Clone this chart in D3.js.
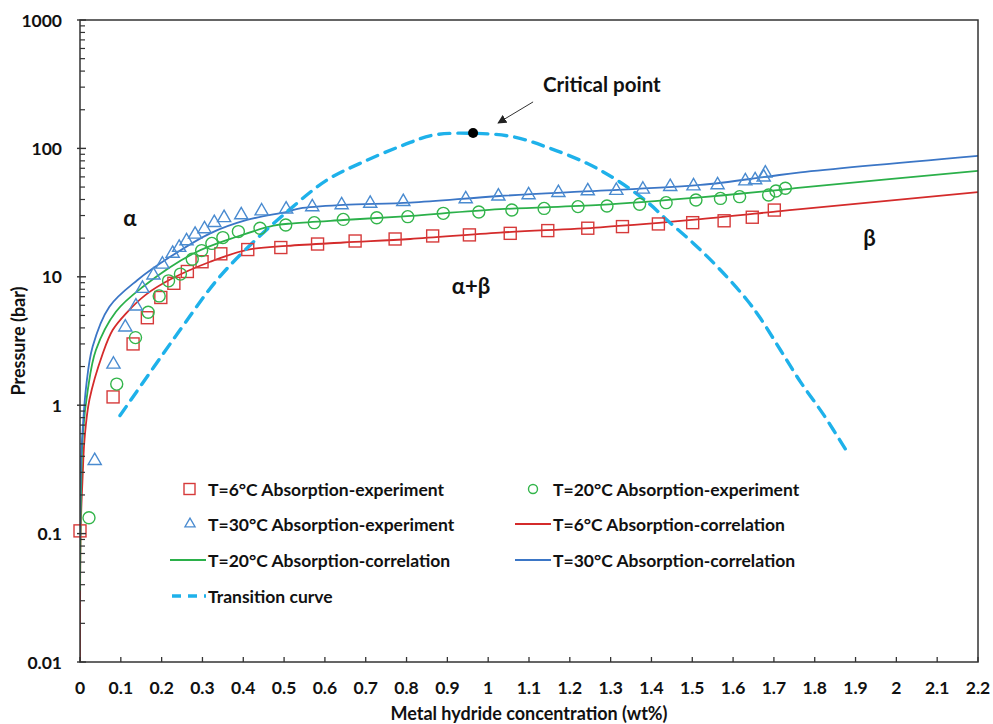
<!DOCTYPE html>
<html>
<head>
<meta charset="utf-8">
<script src="https://cdn.jsdelivr.net/npm/d3@7"></script>
<style>
  html, body { margin: 0; padding: 0; background: #fff; }
  svg text { font-family: "Lato", "Open Sans", sans-serif; font-weight: bold; fill: #111; }
</style>
</head>
<body>
<svg id="chart" width="993" height="724"></svg>
<script>
// ---- Experimental absorption data (wt%, bar) ----
const exp6X = [0, 0.081, 0.130, 0.165, 0.198, 0.230, 0.263, 0.299, 0.345, 0.411, 0.492, 0.582, 0.674, 0.772, 0.864, 0.954, 1.054, 1.146, 1.244, 1.329, 1.417, 1.501, 1.578, 1.647, 1.701];
const exp6P = [0.105, 1.16, 3.0, 4.8, 6.9, 8.9, 11.0, 13.1, 15.1, 16.3, 16.9, 18.0, 19.0, 19.7, 20.8, 21.2, 21.8, 22.9, 23.9, 24.6, 25.8, 26.4, 27.3, 29.1, 33.1];

const exp20X = [0.022, 0.090, 0.136, 0.167, 0.194, 0.217, 0.246, 0.275, 0.298, 0.323, 0.350, 0.388, 0.441, 0.504, 0.574, 0.645, 0.727, 0.803, 0.890, 0.977, 1.058, 1.137, 1.220, 1.291, 1.371, 1.436, 1.509, 1.569, 1.616, 1.687, 1.705, 1.728];
const exp20P = [0.133, 1.46, 3.36, 5.3, 7.1, 9.3, 10.5, 13.7, 16.0, 18.2, 20.2, 22.5, 23.9, 25.3, 26.4, 28.0, 28.8, 29.4, 31.2, 32.0, 33.1, 34.1, 35.2, 35.6, 36.7, 37.8, 39.6, 40.8, 42.1, 43.4, 46.6, 48.9];

const exp30X = [0.036, 0.082, 0.111, 0.137, 0.153, 0.180, 0.202, 0.227, 0.243, 0.261, 0.282, 0.305, 0.329, 0.353, 0.395, 0.445, 0.505, 0.569, 0.641, 0.711, 0.792, 0.945, 1.025, 1.099, 1.172, 1.244, 1.314, 1.379, 1.446, 1.503, 1.562, 1.630, 1.654, 1.675, 1.679];
const exp30P = [0.37, 2.08, 4.05, 5.9, 8.1, 10.3, 12.5, 15.2, 16.9, 19.0, 21.4, 23.6, 26.4, 28.8, 30.3, 32.5, 33.6, 35.0, 36.3, 37.3, 38.4, 40.4, 42.4, 43.4, 45.2, 46.6, 46.9, 48.0, 50.3, 50.9, 51.9, 55.7, 56.8, 59.6, 64.0];

// ---- Correlation curves (wt%, bar) ----
const corr6X = [0, 0.0005, 0.002, 0.0065, 0.011, 0.023, 0.056, 0.080, 0.113, 0.160, 0.223, 0.319, 0.409, 0.507, 0.645, 0.809, 1.029, 1.275, 1.520, 1.716, 1.765, 2.2];
const corr6P = [0.01, 0.05, 0.12, 0.28, 0.54, 1.10, 2.54, 3.85, 5.2, 7.2, 9.6, 13.1, 16.2, 17.4, 18.5, 19.7, 22.1, 24.3, 28.1, 32.5, 33.6, 45.6];

const corr20X = [0, 0.001, 0.003, 0.007, 0.019, 0.039, 0.088, 0.155, 0.278, 0.384, 0.474, 0.523, 0.645, 0.784, 1.029, 1.275, 1.520, 1.716, 1.765, 2.2];
const corr20P = [0.036, 0.09, 0.25, 0.6, 1.31, 2.69, 5.35, 8.4, 15.2, 20.5, 25.0, 26.1, 27.7, 29.4, 33.6, 36.3, 41.6, 47.5, 49.4, 66.8];

const corr30X = [0, 0.001, 0.003, 0.0065, 0.015, 0.031, 0.072, 0.141, 0.221, 0.319, 0.409, 0.507, 0.539, 0.645, 0.809, 1.029, 1.275, 1.520, 1.683, 1.765, 2.2];
const corr30P = [0.09, 0.2, 0.4, 0.64, 1.39, 2.86, 5.85, 9.44, 14.3, 21.8, 27.7, 32.1, 34.1, 36.3, 37.8, 42.6, 46.9, 51.9, 60.2, 65.1, 87.5];

// ---- Transition (phase boundary) curve ----
const transX = [0.098, 0.245, 0.335, 0.409, 0.507, 0.605, 0.686, 0.792, 0.866, 0.964, 1.062, 1.152, 1.242, 1.315, 1.389, 1.438, 1.503, 1.569, 1.634, 1.667, 1.716, 1.765, 1.822, 1.879];
const transP = [0.83, 3.85, 9.4, 16.7, 32.1, 56.7, 76.5, 106, 127, 131, 123, 100, 76.5, 56.7, 38.4, 27.7, 18.2, 11.3, 6.6, 4.75, 2.69, 1.52, 0.84, 0.435];

// Critical point and phase-region labels
const criticalX = 0.963, criticalP = 132;
const regionLabels = ["α", "α+β", "β"];
const regionX = [0.1225, 0.958, 1.934];
const regionP = [29.2, 8.63, 20.4];

// Axis ticks
const xTicks = d3.range(0, 23).map(i => i / 10);
const yMajor = [0.01, 0.1, 1, 10, 100, 1000];
const yTickLabels = ["0.01", "0.1", "1", "10", "100", "1000"];

// ---- Layout ----
const svg = d3.select("#chart");
const plotLeft = 80, plotRight = 978, plotTop = 20, plotBottom = 662;

const x = d3.scaleLinear().domain([0, 2.2]).range([plotLeft, plotRight]);
const y = d3.scaleLog().domain([0.01, 1000]).range([plotBottom, plotTop]);

const colors = {
  red: "#d42b2b", green: "#2bb04a", blue: "#3b76c6",
  redM: "#d63a3a", greenM: "#33b54b", blueM: "#4a8bd0",
  trans: "#1eb1ea"
};

const defs = svg.append("defs");
defs.append("clipPath").attr("id", "plotClip")
  .append("rect").attr("x", plotLeft).attr("y", plotTop)
  .attr("width", plotRight - plotLeft).attr("height", plotBottom - plotTop);

const plot = svg.append("g").attr("clip-path", "url(#plotClip)");

const zip = (xs, ps) => xs.map((v, i) => [v, ps[i]]);
const smooth = d3.line().x(d => x(d[0])).y(d => y(d[1])).curve(d3.curveCatmullRom.alpha(0.5));

// Correlation lines
[[corr6X, corr6P, colors.red], [corr20X, corr20P, colors.green], [corr30X, corr30P, colors.blue]]
  .forEach(([xs, ps, c]) => {
    plot.append("path").datum(zip(xs, ps)).attr("d", smooth)
      .attr("fill", "none").attr("stroke", c).attr("stroke-width", 1.8);
  });

// Transition curve
plot.append("path").datum(zip(transX, transP)).attr("d", smooth)
  .attr("fill", "none").attr("stroke", colors.trans).attr("stroke-width", 3.4)
  .attr("stroke-dasharray", "11,8").attr("stroke-linecap", "round");

// Experimental markers
const markers = svg.append("g");
markers.selectAll(".sq").data(zip(exp6X, exp6P)).join("rect")
  .attr("x", d => x(d[0]) - 6).attr("y", d => y(d[1]) - 6)
  .attr("width", 12).attr("height", 12)
  .attr("fill", "none").attr("stroke", colors.redM).attr("stroke-width", 1.4);

markers.selectAll(".ci").data(zip(exp20X, exp20P)).join("circle")
  .attr("cx", d => x(d[0])).attr("cy", d => y(d[1])).attr("r", 6)
  .attr("fill", "none").attr("stroke", colors.greenM).attr("stroke-width", 1.4);

const tri = d3.symbol().type(d3.symbolTriangle).size(75);
markers.selectAll(".tr").data(zip(exp30X, exp30P)).join("path")
  .attr("d", tri)
  .attr("transform", d => `translate(${x(d[0])},${y(d[1])})`)
  .attr("fill", "none").attr("stroke", colors.blueM).attr("stroke-width", 1.4);

// Critical point
const cx0 = x(criticalX), cy0 = y(criticalP);
svg.append("circle").attr("cx", cx0).attr("cy", cy0).attr("r", 5).attr("fill", "#000");
defs.append("marker").attr("id", "arrowHead")
  .attr("viewBox", "0 0 10 10").attr("refX", 9).attr("refY", 5)
  .attr("markerWidth", 9).attr("markerHeight", 9).attr("orient", "auto")
  .attr("markerUnits", "userSpaceOnUse")
  .append("path").attr("d", "M0,0 L10,5 L0,10 z").attr("fill", "#222");
svg.append("line")
  .attr("x1", cx0 + 60).attr("y1", cy0 - 31).attr("x2", cx0 + 25).attr("y2", cy0 - 10)
  .attr("stroke", "#333").attr("stroke-width", 1).attr("marker-end", "url(#arrowHead)");
svg.append("text").attr("x", cx0 + 70).attr("y", cy0 - 41)
  .style("font-size", "20.5px").text("Critical point");

// Region labels
svg.selectAll(".region").data(regionLabels).join("text")
  .attr("x", (d, i) => x(regionX[i])).attr("y", (d, i) => y(regionP[i]))
  .attr("text-anchor", "middle").attr("dominant-baseline", "central")
  .style("font-size", "22px").text(d => d);

// ---- Axes ----
const axisColor = "#333";
const ax = svg.append("g");
ax.append("rect").attr("x", plotLeft).attr("y", plotTop)
  .attr("width", plotRight - plotLeft).attr("height", plotBottom - plotTop)
  .attr("fill", "none").attr("stroke", axisColor).attr("stroke-width", 1.5);

// x ticks (inward)
ax.selectAll(".xt").data(xTicks).join("line")
  .attr("x1", d => x(d)).attr("x2", d => x(d)).attr("y1", plotBottom).attr("y2", plotBottom - 5)
  .attr("stroke", axisColor).attr("stroke-width", 1.3);
ax.selectAll(".xl").data(xTicks).join("text")
  .attr("x", d => x(d)).attr("y", plotBottom + 32).attr("text-anchor", "middle")
  .style("font-size", "17.5px").text(d => d3.format("~g")(d));

// y ticks: majors cross the axis, minors point inward
const yMinor = [];
yMajor.slice(0, -1).forEach(m => { for (let k = 2; k <= 9; k++) yMinor.push(m * k); });
ax.selectAll(".ym").data(yMinor).join("line")
  .attr("x1", plotLeft).attr("x2", plotLeft + 5).attr("y1", d => y(d)).attr("y2", d => y(d))
  .attr("stroke", axisColor).attr("stroke-width", 1.2);
ax.selectAll(".yM").data(yMajor).join("line")
  .attr("x1", plotLeft - 3).attr("x2", plotLeft + 6).attr("y1", d => y(d)).attr("y2", d => y(d))
  .attr("stroke", axisColor).attr("stroke-width", 1.4);
ax.selectAll(".yl").data(yMajor).join("text")
  .attr("x", plotLeft - 18).attr("y", d => y(d)).attr("text-anchor", "end")
  .attr("dominant-baseline", "central")
  .style("font-size", "17.5px").text((d, i) => yTickLabels[i]);

// Axis titles
svg.append("text").attr("x", (plotLeft + plotRight) / 2).attr("y", 720).attr("text-anchor", "middle")
  .style("font-size", "18px").text("Metal hydride concentration (wt%)");
svg.append("text").attr("transform", `translate(25,${(plotTop + plotBottom) / 2}) rotate(-90)`)
  .attr("text-anchor", "middle").style("font-size", "18px").text("Pressure (bar)");

// ---- Legend ----
const legendItems = [
  { label: "T=6°C Absorption-experiment", kind: "square", color: colors.redM, col: 0, row: 0 },
  { label: "T=20°C Absorption-experiment", kind: "circle", color: colors.greenM, col: 1, row: 0 },
  { label: "T=30°C Absorption-experiment", kind: "triangle", color: colors.blueM, col: 0, row: 1 },
  { label: "T=6°C Absorption-correlation", kind: "line", color: colors.red, col: 1, row: 1 },
  { label: "T=20°C Absorption-correlation", kind: "line", color: colors.green, col: 0, row: 2 },
  { label: "T=30°C Absorption-correlation", kind: "line", color: colors.blue, col: 1, row: 2 },
  { label: "Transition curve", kind: "dash", color: colors.trans, col: 0, row: 3 }
];
const colX = [206, 551], rowY = [489, 524, 560, 596];
const lg = svg.append("g");
legendItems.forEach(it => {
  const tx = colX[it.col], ty = rowY[it.row];
  const g = lg.append("g");
  if (it.kind === "square") {
    g.append("rect").attr("x", tx - 22).attr("y", ty - 5.5).attr("width", 11).attr("height", 11)
      .attr("fill", "none").attr("stroke", it.color).attr("stroke-width", 1.4);
  } else if (it.kind === "circle") {
    g.append("circle").attr("cx", tx - 18).attr("cy", ty).attr("r", 4.5)
      .attr("fill", "none").attr("stroke", it.color).attr("stroke-width", 1.4);
  } else if (it.kind === "triangle") {
    g.append("path").attr("d", d3.symbol().type(d3.symbolTriangle).size(45)())
      .attr("transform", `translate(${tx - 16},${ty})`)
      .attr("fill", "none").attr("stroke", it.color).attr("stroke-width", 1.3);
  } else if (it.kind === "line") {
    g.append("line").attr("x1", tx - 36).attr("x2", tx).attr("y1", ty).attr("y2", ty)
      .attr("stroke", it.color).attr("stroke-width", 1.8);
  } else {
    g.append("line").attr("x1", tx - 36).attr("x2", tx).attr("y1", ty).attr("y2", ty)
      .attr("stroke", it.color).attr("stroke-width", 3.4).attr("stroke-dasharray", "9,7")
      .attr("stroke-dashoffset", -2);
  }
  g.append("text").attr("x", tx + 2).attr("y", ty).attr("dominant-baseline", "central")
    .style("font-size", "17.5px").text(it.label);
});
</script>
</body>
</html>
